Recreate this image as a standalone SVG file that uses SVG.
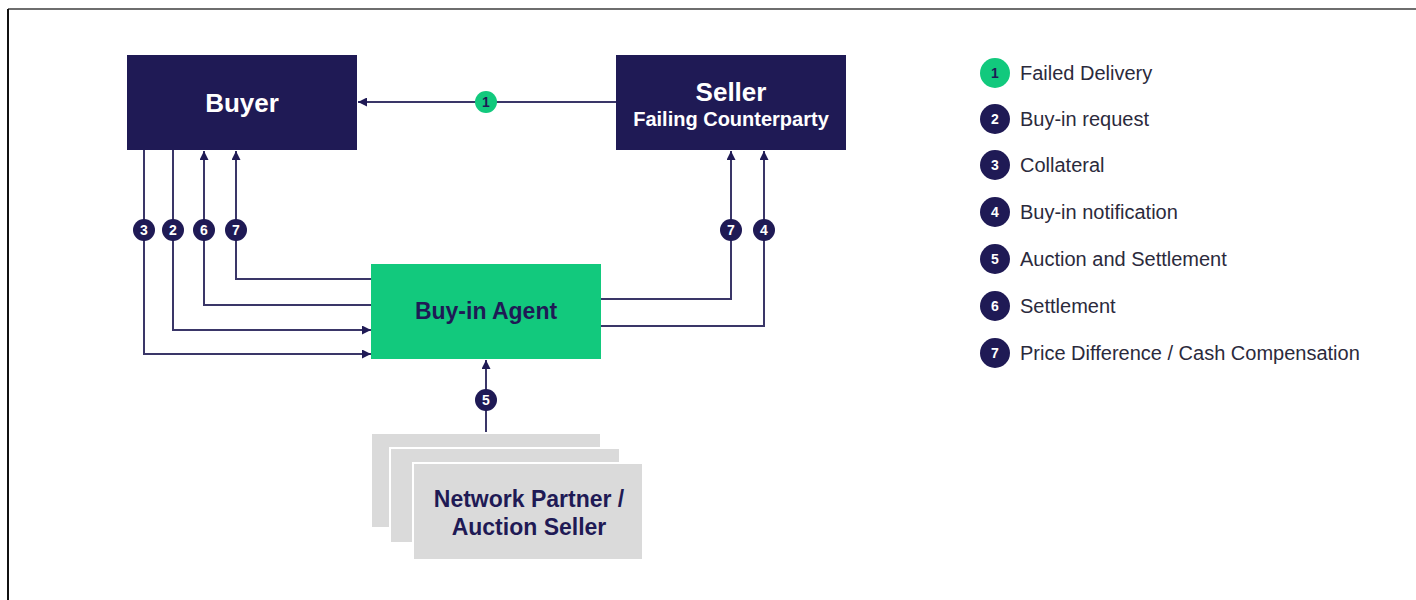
<svg xmlns="http://www.w3.org/2000/svg" width="1416" height="600" viewBox="0 0 1416 600">
  <defs>
    <marker id="arrow" viewBox="0 0 10 10" refX="10" refY="5" markerWidth="9" markerHeight="9" markerUnits="userSpaceOnUse" orient="auto">
      <path d="M0,0 L10,5 L0,10 z" fill="#1f1a55"/>
    </marker>
    <style>
      .navy { fill: #1f1a55; }
      .green { fill: #12c97d; }
      .grey { fill: #dadada; stroke: #ffffff; stroke-width: 2; }
      .wire { fill: none; stroke: #3a3668; stroke-width: 2; }
      .lbl { font-family: "Liberation Sans", Arial, sans-serif; font-weight: bold; text-anchor: middle; }
      .num { font-family: "Liberation Sans", Arial, sans-serif; font-weight: bold; font-size: 14px; fill: #ffffff; text-anchor: middle; }
      .legend { font-family: "Liberation Sans", Arial, sans-serif; font-size: 20px; fill: #2b2a3c; }
    </style>
  </defs>

  <rect width="1416" height="600" fill="#ffffff"/>
  <!-- frame -->
  <line x1="8" y1="9" x2="1416" y2="9" stroke="#6e6e6e" stroke-width="2"/>
  <line x1="8" y1="9" x2="8" y2="600" stroke="#111111" stroke-width="2"/>

  <!-- connectors -->
  <g id="connectors">
    <line class="wire" x1="616" y1="102" x2="358" y2="102" marker-end="url(#arrow)"/>
    <polyline class="wire" points="144,150 144,354 371,354" marker-end="url(#arrow)"/>
    <polyline class="wire" points="173,150 173,330 371,330" marker-end="url(#arrow)"/>
    <polyline class="wire" points="371,305 204,305 204,151" marker-end="url(#arrow)"/>
    <polyline class="wire" points="371,279 236,279 236,151" marker-end="url(#arrow)"/>
    <polyline class="wire" points="601,299 731,299 731,151" marker-end="url(#arrow)"/>
    <polyline class="wire" points="601,326 764,326 764,151" marker-end="url(#arrow)"/>
    <line class="wire" x1="486" y1="433" x2="486" y2="360" marker-end="url(#arrow)"/>
  </g>

  <!-- step badges on connectors -->
  <g id="badges">
    <circle cx="486" cy="102" r="11" class="green"/>
    <text x="486" y="107" class="num" style="fill:#1f1a55">1</text>
    <circle cx="144" cy="230" r="11" class="navy"/>
    <text x="144" y="235" class="num">3</text>
    <circle cx="173" cy="230" r="11" class="navy"/>
    <text x="173" y="235" class="num">2</text>
    <circle cx="204" cy="230" r="11" class="navy"/>
    <text x="204" y="235" class="num">6</text>
    <circle cx="236" cy="230" r="11" class="navy"/>
    <text x="236" y="235" class="num">7</text>
    <circle cx="731" cy="230" r="11" class="navy"/>
    <text x="731" y="235" class="num">7</text>
    <circle cx="764" cy="230" r="11" class="navy"/>
    <text x="764" y="235" class="num">4</text>
    <circle cx="486" cy="400" r="11" class="navy"/>
    <text x="486" y="405" class="num">5</text>
  </g>

  <g id="buyer">
    <rect x="127" y="55" width="230" height="95" class="navy"/>
    <text x="242" y="112" class="lbl" font-size="26" fill="#ffffff">Buyer</text>
  </g>

  <g id="seller">
    <rect x="616" y="55" width="230" height="95" class="navy"/>
    <text x="731" y="101" class="lbl" font-size="26" fill="#ffffff">Seller</text>
    <text x="731" y="126" class="lbl" font-size="20" fill="#ffffff">Failing Counterparty</text>
  </g>

  <g id="buy-in-agent">
    <rect x="371" y="264" width="230" height="95" class="green"/>
    <text x="486" y="319" class="lbl" font-size="23" fill="#1f1a55">Buy-in Agent</text>
  </g>

  <g id="network-partner">
    <rect x="371" y="433" width="230" height="95" class="grey"/>
    <rect x="390" y="448" width="230" height="95" class="grey"/>
    <rect x="413" y="463" width="230" height="97" class="grey"/>
    <text x="529" y="507" class="lbl" font-size="23" fill="#1f1a55">Network Partner /</text>
    <text x="529" y="535" class="lbl" font-size="23" fill="#1f1a55">Auction Seller</text>
  </g>

  <g id="legend">
    <circle cx="995" cy="73" r="15" class="green"/>
    <text x="995" y="78" class="num" style="fill:#1f1a55">1</text>
    <text x="1020" y="80" class="legend">Failed Delivery</text>

    <circle cx="995" cy="119" r="15" class="navy"/>
    <text x="995" y="124" class="num">2</text>
    <text x="1020" y="126" class="legend">Buy-in request</text>

    <circle cx="995" cy="165" r="15" class="navy"/>
    <text x="995" y="170" class="num">3</text>
    <text x="1020" y="172" class="legend">Collateral</text>

    <circle cx="995" cy="212" r="15" class="navy"/>
    <text x="995" y="217" class="num">4</text>
    <text x="1020" y="219" class="legend">Buy-in notification</text>

    <circle cx="995" cy="259" r="15" class="navy"/>
    <text x="995" y="264" class="num">5</text>
    <text x="1020" y="266" class="legend">Auction and Settlement</text>

    <circle cx="995" cy="306" r="15" class="navy"/>
    <text x="995" y="311" class="num">6</text>
    <text x="1020" y="313" class="legend">Settlement</text>

    <circle cx="995" cy="353" r="15" class="navy"/>
    <text x="995" y="358" class="num">7</text>
    <text x="1020" y="360" class="legend">Price Difference / Cash Compensation</text>
  </g>
</svg>
